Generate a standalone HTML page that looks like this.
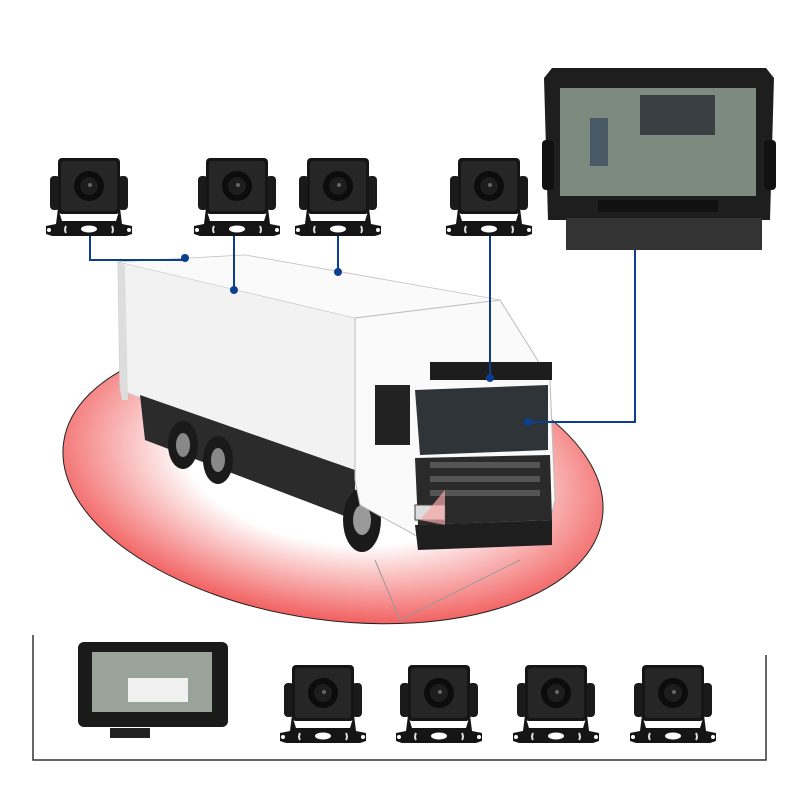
<!DOCTYPE html>
<html><head><meta charset="utf-8"><style>html,body{margin:0;padding:0;background:#fff}svg{display:block}</style></head>
<body>
<svg width="800" height="800" viewBox="0 0 800 800" xmlns="http://www.w3.org/2000/svg">
<defs>
<radialGradient id="rg" cx="0.5" cy="0.45" r="0.55">
<stop offset="0.5" stop-color="#fff"/><stop offset="1" stop-color="#f26060"/></radialGradient>
<g id="cam">
<rect x="2" y="18" width="10" height="34" rx="4" fill="#1a1a1a"/>
<rect x="70" y="18" width="10" height="34" rx="4" fill="#1a1a1a"/>
<rect x="10" y="0" width="62" height="56" rx="4" fill="#151515"/>
<rect x="13" y="3" width="56" height="50" rx="3" fill="#262626"/>
<circle cx="41" cy="28" r="15" fill="#0c0c0c"/>
<circle cx="41" cy="28" r="9" fill="#1d1d1d"/>
<circle cx="42" cy="27" r="2" fill="#666"/>
<path d="M10 50 L14 63 L68 63 L72 50 L74 66 L84 68 L84 76 L78 78 L4 78 L-2 76 L-2 68 L8 66 Z" fill="#151515"/>
<ellipse cx="41" cy="71" rx="8" ry="3.5" fill="#fff"/>
<path d="M18 68 q-2 4 0 7 M64 68 q2 4 0 7" stroke="#ddd" stroke-width="2" fill="none"/>
<circle cx="1" cy="72" r="2" fill="#fff"/><circle cx="81" cy="72" r="2" fill="#fff"/>
</g>
</defs>

<ellipse cx="333" cy="480" rx="272" ry="140" transform="rotate(8 333 480)" fill="url(#rg)" stroke="#222" stroke-width="1"/>
<path d="M120 385 L230 290 L330 470 Z" fill="#f4a6a6" opacity="0.6"/>
<path d="M375 560 L400 620 L520 560" fill="none" stroke="#999" stroke-width="1"/>

<polygon points="118,262 245,255 500,300 497,358 355,338 355,480 120,390" fill="#f2f2f2" stroke="#ccc"/>
<polygon points="118,262 120,390 122,400 128,400 125,265" fill="#ddd"/>
<polygon points="245,255 500,300 355,318 118,262" fill="#fafafa" stroke="#bbb" stroke-width="0.6"/>
<polygon points="140,395 355,470 355,520 145,440" fill="#2b2b2b"/>
<ellipse cx="183" cy="445" rx="15" ry="24" fill="#1a1a1a"/><ellipse cx="183" cy="445" rx="7" ry="12" fill="#888"/>
<ellipse cx="218" cy="460" rx="15" ry="24" fill="#1a1a1a"/><ellipse cx="218" cy="460" rx="7" ry="12" fill="#888"/>
<ellipse cx="362" cy="520" rx="19" ry="32" fill="#1a1a1a"/><ellipse cx="362" cy="520" rx="9" ry="15" fill="#999"/>
<polygon points="355,318 500,300 550,380 555,500 545,540 415,535 360,505 355,480" fill="#fafafa" stroke="#bbb"/>
<polygon points="415,390 548,385 548,450 420,455" fill="#2f3438"/>
<polygon points="415,458 550,455 552,520 418,525" fill="#2a2a2a"/>
<rect x="430" y="462" width="110" height="6" fill="#555"/><rect x="430" y="476" width="110" height="6" fill="#555"/><rect x="430" y="490" width="110" height="6" fill="#555"/>
<polygon points="415,525 552,520 552,545 418,550" fill="#1e1e1e"/>
<rect x="375" y="385" width="35" height="60" fill="#222"/>
<rect x="430" y="362" width="122" height="18" fill="#1d1d1d"/>
<rect x="415" y="505" width="30" height="15" fill="#ddd" stroke="#444"/>
<path d="M420 520 L445 490 L445 525 Z" fill="#f4a6a6" opacity="0.7"/>

<polygon points="552,68 766,68 774,78 770,220 548,220 544,78" fill="#1e1e1e"/>
<rect x="560" y="88" width="196" height="108" fill="#7c8a80"/>
<rect x="640" y="95" width="75" height="40" fill="#3a3f44"/>
<rect x="590" y="118" width="18" height="48" fill="#4a5966"/>
<rect x="598" y="200" width="120" height="12" fill="#111"/>
<rect x="566" y="218" width="196" height="32" fill="#333"/>
<rect x="542" y="140" width="12" height="50" rx="4" fill="#111"/><rect x="764" y="140" width="12" height="50" rx="4" fill="#111"/>

<use href="#cam" x="48" y="158"/>
<use href="#cam" x="196" y="158"/>
<use href="#cam" x="297" y="158"/>
<use href="#cam" x="448" y="158"/>

<g stroke="#0d3f8f" stroke-width="2" fill="none">
<path d="M90 236 V260 H185"/>
<path d="M234 236 V290"/>
<path d="M338 236 V272"/>
<path d="M490 236 V378"/>
<path d="M635 250 V422 H528"/>
</g>
<g fill="#0d3f8f"><circle cx="185" cy="258" r="4"/><circle cx="234" cy="290" r="4"/><circle cx="338" cy="272" r="4"/><circle cx="490" cy="378" r="4"/><circle cx="528" cy="422" r="4"/></g>

<path d="M33 635 V760 H766 V655" stroke="#333" stroke-width="1.5" fill="none"/>
<rect x="78" y="642" width="150" height="85" rx="6" fill="#1a1a1a"/>
<rect x="92" y="652" width="120" height="60" fill="#9aa39a"/>
<rect x="128" y="678" width="60" height="24" fill="#f0f0f0"/>
<path d="M110 728 h40 v10 h-40 z" fill="#222"/>
<use href="#cam" x="282" y="665"/>
<use href="#cam" x="398" y="665"/>
<use href="#cam" x="515" y="665"/>
<use href="#cam" x="632" y="665"/>
</svg>
</body></html>
